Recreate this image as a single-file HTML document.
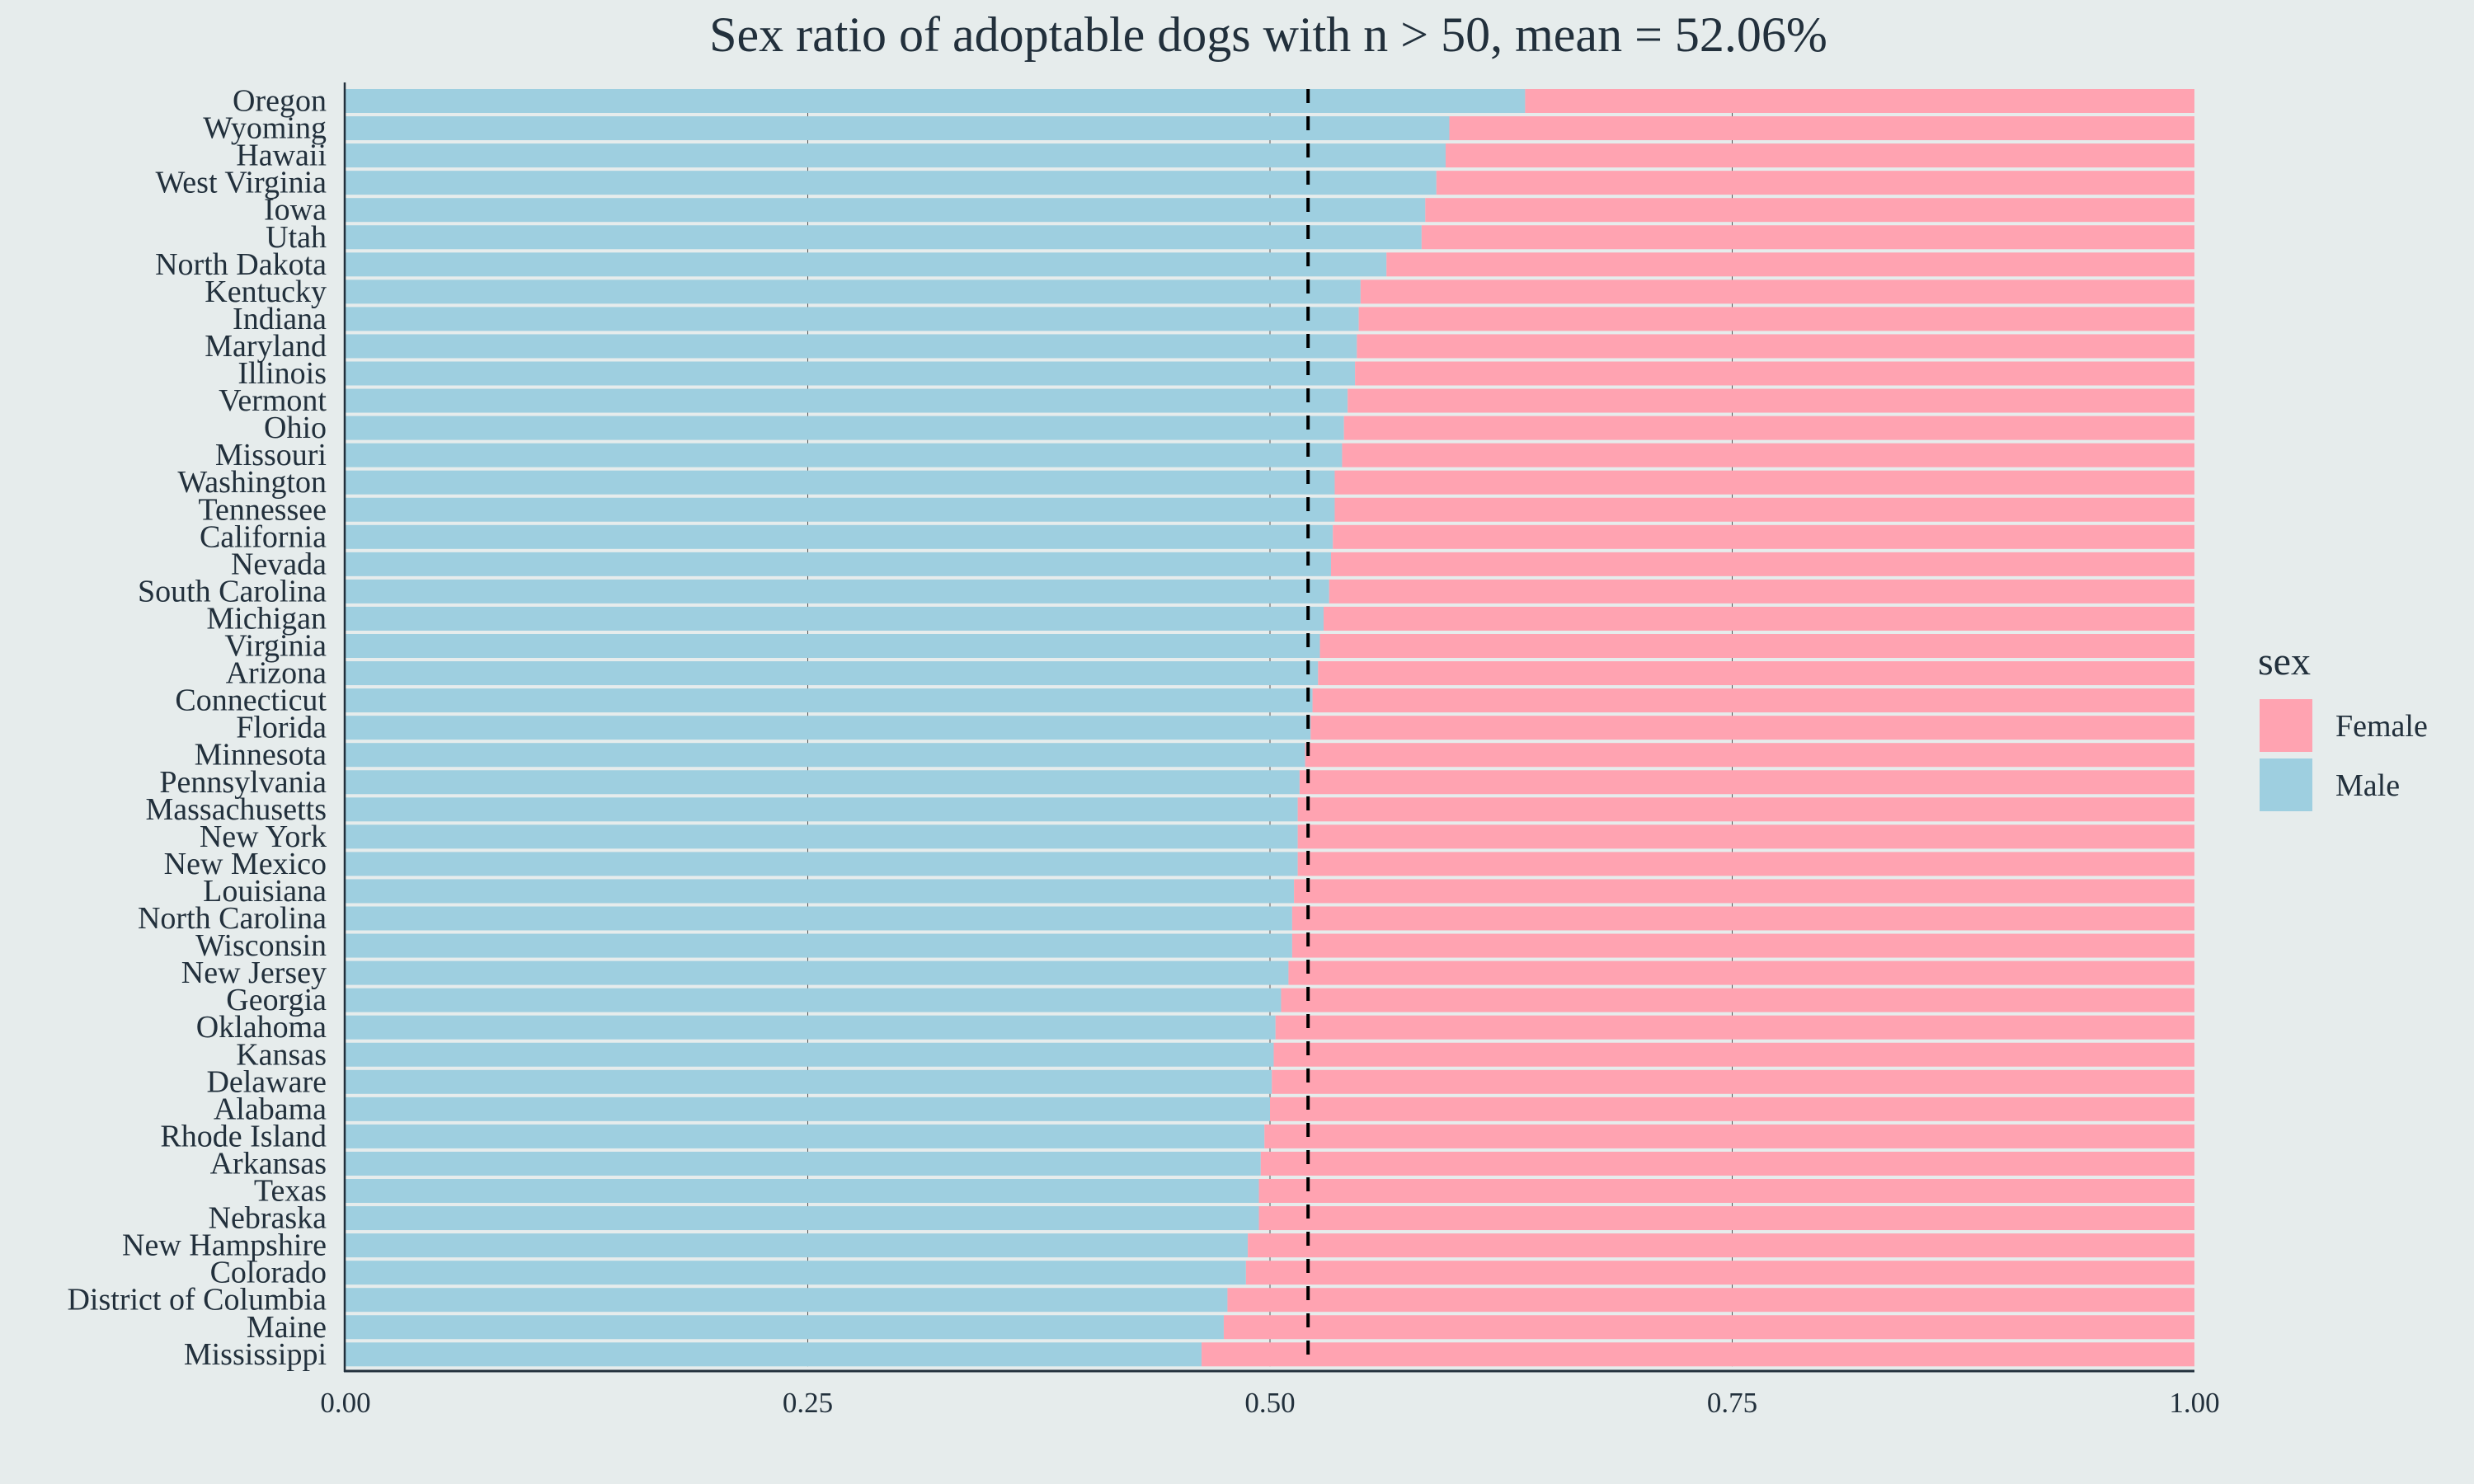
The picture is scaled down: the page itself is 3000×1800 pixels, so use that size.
<!DOCTYPE html>
<html><head><meta charset="utf-8">
<style>
html,body{margin:0;padding:0;background:#e6ecec;}
svg{display:block;font-family:"Liberation Serif",serif;}
</style></head>
<body>
<svg id="chart" width="3000" height="1800" viewBox="0 0 3000 1800">
<rect width="3000" height="1800" fill="#e6ecec"/>
<text x="1538" y="62" text-anchor="middle" font-size="60" fill="#22303c">Sex ratio of adoptable dogs with n &gt; 50, mean = 52.06%</text>
<g id="grid"></g>
<g id="bars"></g>
<g id="ylabels"></g>
<g id="xaxis"></g>
<g>
<text x="2738" y="818" font-size="48" fill="#22303c">sex</text>
<rect x="2740" y="848" width="64" height="64" fill="#ffa3b1"/>
<text x="2832" y="893" font-size="38" fill="#22303c">Female</text>
<rect x="2740" y="920" width="64" height="64" fill="#9ecfe0"/>
<text x="2832" y="965" font-size="38" fill="#22303c">Male</text>
</g>
</svg>
<script>
const states = ["Oregon","Wyoming","Hawaii","West Virginia","Iowa","Utah","North Dakota","Kentucky","Indiana","Maryland","Illinois","Vermont","Ohio","Missouri","Washington","Tennessee","California","Nevada","South Carolina","Michigan","Virginia","Arizona","Connecticut","Florida","Minnesota","Pennsylvania","Massachusetts","New York","New Mexico","Louisiana","North Carolina","Wisconsin","New Jersey","Georgia","Oklahoma","Kansas","Delaware","Alabama","Rhode Island","Arkansas","Texas","Nebraska","New Hampshire","Colorado","District of Columbia","Maine","Mississippi"];
const maleShare = [0.638,0.597,0.595,0.590,0.584,0.582,0.563,0.549,0.548,0.547,0.546,0.542,0.540,0.539,0.535,0.535,0.534,0.533,0.532,0.529,0.527,0.526,0.523,0.522,0.519,0.516,0.515,0.515,0.515,0.513,0.512,0.512,0.510,0.506,0.503,0.502,0.501,0.500,0.497,0.495,0.494,0.494,0.488,0.487,0.477,0.475,0.463];
const meanValue = 0.5206;
const xTicks = [0,0.25,0.5,0.75,1];
const xTickLabels = ["0.00","0.25","0.50","0.75","1.00"];

const NS="http://www.w3.org/2000/svg";
const X0=419, X1=2661, TOP=108, PITCH=33.05, BH=29;
const xs=v=>X0+v*(X1-X0);
const ys=i=>TOP+i*PITCH;
function mk(tag,attrs,parent){const e=document.createElementNS(NS,tag);for(const k in attrs)e.setAttribute(k,attrs[k]);parent.appendChild(e);return e;}
const grid=document.getElementById('grid'),bars=document.getElementById('bars'),yl=document.getElementById('ylabels'),xa=document.getElementById('xaxis');
const bottom=ys(states.length-1)+BH;
xTicks.forEach((t,i)=>{
  if(t>0&&t<1){const g=mk('line',{x1:xs(t),x2:xs(t),y1:TOP,y2:bottom,stroke:'#555','stroke-width':1},grid);
  
  }
  const tl=mk('text',{x:xs(t),y:1713,'text-anchor':'middle','font-size':35,fill:'#22303c'},xa);
  tl.textContent=xTickLabels[i];
  
  
});
states.forEach((s,i)=>{
  const y=ys(i), m=maleShare[i];
  const b=mk('rect',{x:xs(0),y:y,width:xs(m)-xs(0),height:BH,fill:'#9ecfe0'},bars);
  
  
  const f=mk('rect',{x:xs(m),y:y,width:xs(1)-xs(m),height:BH,fill:'#ffa3b1'},bars);
  
  
  const t=mk('text',{x:396,y:y+BH/2+12,'text-anchor':'end','font-size':38,fill:'#22303c'},yl);
  t.textContent=s;
  
  
});
const ml=mk('line',{x1:xs(meanValue),x2:xs(meanValue),y1:TOP,y2:bottom,stroke:'#000','stroke-width':4,'stroke-dasharray':'17,16'},bars);


const ya=mk('line',{x1:X0-1,x2:X0-1,y1:TOP-8,y2:1664,stroke:'#22303c','stroke-width':2.5},xa);


const xl=mk('line',{x1:X0-2,x2:X1,y1:1663,y2:1663,stroke:'#22303c','stroke-width':3},xa);


</script>
</body></html>
